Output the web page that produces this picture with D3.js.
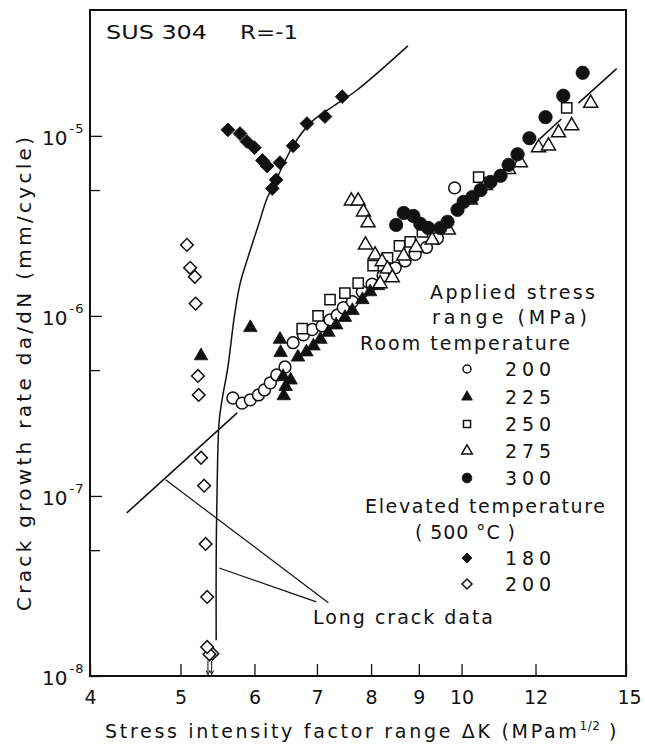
<!DOCTYPE html>
<html lang="en">
<head>
<meta charset="UTF-8" />
<title>SUS 304 R=-1 crack growth</title>
<script src="https://d3js.org/d3.v7.min.js"></script>
<style>
  html, body { margin: 0; padding: 0; background: #fff; }
  svg text { font-family: "DejaVu Sans", sans-serif; fill: #111; }
</style>
</head>
<body>
<div id="chart"></div>
<script>
// ---- data (ΔK in MPa·m^1/2, da/dN in mm/cycle) ----
const xTickValues = [4, 5, 6, 7, 8, 9, 10, 12, 15];
const yMajorTicks = [1e-8, 1e-7, 1e-6, 1e-5];
const yMinorTicks = [5e-8, 5e-7, 5e-6];

// room temperature
const rt200 = [[5.69,3.5e-7],[5.82,3.28e-7],[5.94,3.42e-7],[6.06,3.64e-7],[6.15,3.88e-7],[6.24,4.25e-7],
  [6.34,4.7e-7],[6.47,5.2e-7],[6.60,7.1e-7],[6.77,7.85e-7],[6.92,8.4e-7],[7.09,8.8e-7],[7.23,9.5e-7],
  [7.36,1.01e-6],[7.47,1.11e-6],[7.64,1.2e-6],[7.83,1.36e-6],[8.02,1.5e-6],[8.24,1.67e-6],[8.49,1.85e-6],
  [8.70,2.02e-6],[8.92,2.2e-6],[9.17,2.4e-6],[9.42,2.7e-6],[9.83,5.14e-6]];
const rt225 = [[5.26,6.0e-7],[5.94,8.6e-7],[6.39,7.4e-7],[6.40,6.25e-7],[6.44,4.6e-7],[6.48,4.05e-7],
  [6.45,3.6e-7],[6.56,4.4e-7],[6.68,5.9e-7],[6.82,6.3e-7],[6.94,6.8e-7],[7.06,7.4e-7],[7.20,8.1e-7],
  [7.34,8.9e-7],[7.50,9.8e-7],[7.64,1.07e-6],[7.83,1.23e-6],[7.98,1.36e-6],[8.14,1.47e-6]];
const rt250 = [[6.75,8.5e-7],[7.02,1.0e-6],[7.23,1.23e-6],[7.50,1.34e-6],[7.75,1.52e-6],[8.04,1.9e-6],
  [8.33,2.1e-6],[8.58,2.45e-6],[8.81,2.58e-6],[9.08,2.93e-6],[10.43,5.9e-6],[12.96,1.43e-5]];
const rt275 = [[7.62,4.35e-6],[7.75,4.35e-6],[7.85,3.78e-6],[7.94,3.29e-6],
  [7.89,2.48e-6],[8.08,2.18e-6],[8.22,2.0e-6],[8.33,1.82e-6],[8.43,1.63e-6],[8.18,1.51e-6],
  [8.67,2.15e-6],[8.94,2.4e-6],[9.30,2.64e-6],[9.68,3.0e-6],[10.22,4.4e-6],[10.6,5.3e-6],
  [11.23,6.5e-6],[11.56,7.1e-6],[12.09,8.6e-6],[12.39,8.8e-6],[12.70,1.04e-5],[13.12,1.14e-5],[13.75,1.52e-5]];
const rt300 = [[8.51,3.2e-6],[8.67,3.73e-6],[8.88,3.59e-6],[9.03,3.25e-6],[9.21,3.08e-6],[9.49,3.08e-6],
  [9.66,3.33e-6],[9.90,3.88e-6],[10.05,4.3e-6],[10.27,4.57e-6],[10.48,5.0e-6],[10.74,5.55e-6],
  [11.01,6.0e-6],[11.23,6.9e-6],[11.48,7.9e-6],[11.82,9.7e-6],[12.30,1.27e-5],[12.85,1.67e-5],[13.48,2.24e-5]];

// elevated temperature (500 °C)
const et180 = [[5.62,1.08e-5],[5.79,1.03e-5],[5.89,9.3e-6],[6.0,8.6e-6],[6.12,7.3e-6],[6.19,6.8e-6],
  [6.39,7.1e-6],[6.33,5.7e-6],[6.27,5.1e-6],[6.60,8.8e-6],[6.83,1.17e-5],[7.14,1.28e-5],[7.45,1.65e-5]];
const et200 = [[5.08,2.48e-6],[5.12,1.85e-6],[5.18,1.65e-6],[5.19,1.17e-6],[5.22,4.64e-7],[5.23,3.64e-7],
  [5.26,1.63e-7],[5.30,1.14e-7],[5.32,5.41e-8],[5.34,2.75e-8],[5.41,1.33e-8],[5.37,1.32e-8],[5.34,1.45e-8]];
const et200Arrows = [[5.35,1.22e-8,1.02e-8],[5.40,1.22e-8,1.02e-8]];

// long crack data
const longCrackRT = [
  [[4.38,8.05e-8],[5.75,2.89e-7]],
  [[12.12,9.6e-6],[12.79,1.24e-5]],
  [[13.34,1.52e-5],[14.66,2.36e-5]]
];
const longCrackET = [[5.46,1.58e-8],[5.46,4.41e-8],[5.47,9.5e-8],[5.50,2.6e-7],[5.54,3.42e-7],[5.62,5.2e-7],
  [5.71,9.9e-7],[5.79,1.5e-6],[5.92,2.2e-6],[6.06,3.2e-6],[6.19,4.5e-6],[6.33,5.7e-6],[6.60,8.8e-6],
  [6.89,1.18e-5],[7.27,1.45e-5],[7.71,1.78e-5],[8.76,3.16e-5]];
const leaderLines = [
  [[4.82,1.23e-7],[7.20,2.55e-8]],
  [[5.50,3.98e-8],[6.99,2.58e-8]]
];

// ---- layout ----
const W = 645, H = 749;
const margin = { top: 10, right: 19, bottom: 73, left: 90 };

const svg = d3.select("#chart").append("svg")
  .attr("width", W).attr("height", H);

const x = d3.scaleLog().domain([4, 15]).range([margin.left, W - margin.right]);
const y = d3.scaleLog().domain([1e-8, 5e-5]).range([H - margin.bottom, margin.top]);

// axes (ticks point inward)
const xAxis = svg.append("g")
  .attr("transform", `translate(0,${H - margin.bottom})`)
  .call(d3.axisBottom(x).tickValues(xTickValues).tickSize(-12).tickPadding(15)
    .tickFormat(d3.format("d")));
xAxis.select(".domain").remove();
xAxis.selectAll("line").attr("stroke", "#111").attr("stroke-width", 1.3);
xAxis.selectAll("text").attr("font-size", 19).attr("fill", "#111")
  .attr("dx", d => d === 15 ? 3 : 0);

const yAxis = svg.append("g")
  .attr("transform", `translate(${margin.left},0)`)
  .call(d3.axisLeft(y).tickValues(yMajorTicks).tickSize(-12).tickFormat(""));
yAxis.select(".domain").remove();
yAxis.selectAll("line").attr("stroke", "#111").attr("stroke-width", 1.3);

const yMinor = svg.append("g")
  .attr("transform", `translate(${margin.left},0)`)
  .call(d3.axisLeft(y).tickValues(yMinorTicks).tickSize(-10).tickFormat(""));
yMinor.select(".domain").remove();
yMinor.selectAll("line").attr("stroke", "#111").attr("stroke-width", 1.3);

// y tick labels 10^n
yMajorTicks.forEach(v => {
  const t = svg.append("text")
    .attr("x", 42).attr("y", y(v) + 9)
    .attr("font-size", 20);
  t.append("tspan").text("10");
  t.append("tspan").attr("dy", -12).attr("dx", 2).attr("font-size", 13)
    .attr("letter-spacing", 1).text(Math.round(Math.log10(v)));
});

// frame
svg.append("rect")
  .attr("x", margin.left).attr("y", margin.top)
  .attr("width", W - margin.left - margin.right)
  .attr("height", H - margin.top - margin.bottom)
  .attr("fill", "none").attr("stroke", "#111").attr("stroke-width", 2);

// lines
const line = d3.line().x(d => x(d[0])).y(d => y(d[1]));
const plot = svg.append("g");

longCrackRT.forEach(seg => {
  plot.append("path").attr("d", line(seg))
    .attr("fill", "none").attr("stroke", "#111").attr("stroke-width", 1.6);
});
plot.append("path")
  .attr("d", line.curve(d3.curveCatmullRom.alpha(0.5))(longCrackET))
  .attr("fill", "none").attr("stroke", "#111").attr("stroke-width", 1.5);
line.curve(d3.curveLinear);
leaderLines.forEach(seg => {
  plot.append("path").attr("d", line(seg))
    .attr("fill", "none").attr("stroke", "#111").attr("stroke-width", 1.2);
});

// arrows under the lowest open diamonds
et200Arrows.forEach(([k, r0, r1]) => {
  const xx = x(k);
  plot.append("line").attr("x1", xx).attr("x2", xx)
    .attr("y1", y(r0)).attr("y2", y(r1))
    .attr("stroke", "#111").attr("stroke-width", 1);
  plot.append("path")
    .attr("d", `M${xx - 2},${y(r1) - 4}L${xx},${y(r1)}L${xx + 2},${y(r1) - 4}`)
    .attr("fill", "none").attr("stroke", "#111").attr("stroke-width", 1);
});

// markers
const sym = {
  circle: d3.symbol().type(d3.symbolCircle),
  triangle: d3.symbol().type(d3.symbolTriangle),
  square: d3.symbol().type(d3.symbolSquare),
  diamond: d3.symbol().type(d3.symbolSquare)
};
const series = [
  { data: rt200, shape: "circle", filled: false, size: 110 },
  { data: rt225, shape: "triangle", filled: true, size: 80 },
  { data: rt250, shape: "square", filled: false, size: 105 },
  { data: rt275, shape: "triangle", filled: false, size: 85 },
  { data: rt300, shape: "circle", filled: true, size: 140 },
  { data: et180, shape: "diamond", filled: true, size: 95 },
  { data: et200, shape: "diamond", filled: false, size: 80 }
];

function drawMarker(g, shape, filled, size, cx, cy) {
  const rot = shape === "diamond" ? " rotate(45)" : "";
  g.append("path")
    .attr("d", sym[shape].size(size)())
    .attr("transform", `translate(${cx},${cy})${rot}`)
    .attr("fill", filled ? "#111" : "#fff")
    .attr("stroke", "#111")
    .attr("stroke-width", filled ? 0.8 : 1.5);
}

series.forEach(s => {
  s.data.forEach(d => drawMarker(plot, s.shape, s.filled, s.size, x(d[0]), y(d[1])));
});

// title
svg.append("text").attr("x", 106).attr("y", 39).attr("font-size", 19)
  .attr("textLength", 101).attr("lengthAdjust", "spacingAndGlyphs").text("SUS 304");
svg.append("text").attr("x", 240).attr("y", 39).attr("font-size", 19)
  .attr("textLength", 58).attr("lengthAdjust", "spacingAndGlyphs").text("R=-1");

// legend
const legendHead = [
  { text: "Applied stress", x: 430, y: 299, w: 165 },
  { text: "range (MPa)", x: 432, y: 324, w: 155 },
  { text: "Room temperature", x: 360, y: 350, w: 210 },
  { text: "Elevated temperature", x: 365, y: 513, w: 240 },
  { text: "( 500 °C )", x: 415, y: 539, w: 100 }
];
legendHead.forEach(h => {
  svg.append("text").attr("x", h.x).attr("y", h.y).attr("font-size", 19)
    .attr("textLength", h.w).attr("lengthAdjust", "spacing").text(h.text);
});

const legendRows = [
  { label: "200", shape: "circle", filled: false, y: 369 },
  { label: "225", shape: "triangle", filled: true, y: 397 },
  { label: "250", shape: "square", filled: false, y: 424 },
  { label: "275", shape: "triangle", filled: false, y: 451 },
  { label: "300", shape: "circle", filled: true, y: 478 },
  { label: "180", shape: "diamond", filled: true, y: 558 },
  { label: "200", shape: "diamond", filled: false, y: 584 }
];
legendRows.forEach(r => {
  drawMarker(svg, r.shape, r.filled, r.shape === "circle" && r.filled ? 75 : 50, 467, r.y);
  svg.append("text").attr("x", 505).attr("y", r.y + 7).attr("font-size", 19)
    .attr("textLength", 46).attr("lengthAdjust", "spacing").text(r.label);
});

// long crack label
svg.append("text").attr("x", 313).attr("y", 624).attr("font-size", 19)
  .attr("textLength", 180).attr("lengthAdjust", "spacing").text("Long crack data");

// axis titles
const xt = svg.append("text").attr("x", 105).attr("y", 738).attr("font-size", 19)
  .attr("letter-spacing", 2.7);
xt.append("tspan").text("Stress intensity factor range  ΔK (MPam");
xt.append("tspan").attr("dy", -8).attr("font-size", 12).attr("letter-spacing", 0.5).text("1/2");
xt.append("tspan").attr("dy", 8).text(" )");

svg.append("text")
  .attr("transform", "translate(31,374) rotate(-90)")
  .attr("text-anchor", "middle").attr("font-size", 20)
  .attr("textLength", 474).attr("lengthAdjust", "spacing")
  .text("Crack growth rate  da/dN (mm/cycle)");
</script>
</body>
</html>
